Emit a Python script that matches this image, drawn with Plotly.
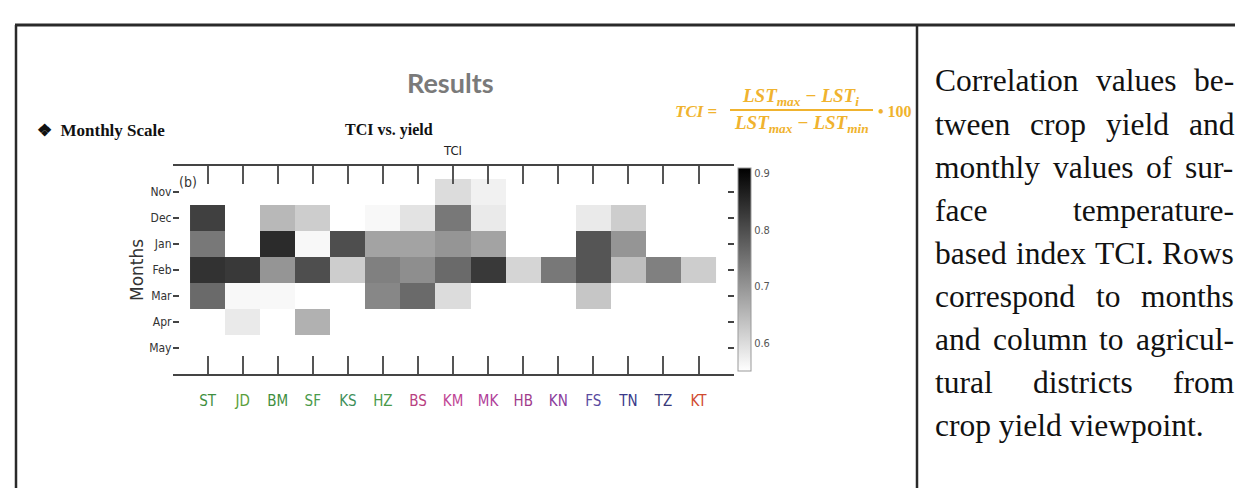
import plotly.graph_objects as go

W, H = 1235, 488

months = ["Nov", "Dec", "Jan", "Feb", "Mar", "Apr", "May"]
districts = ["ST", "JD", "BM", "SF", "KS", "HZ", "BS", "KM", "MK", "HB", "KN", "FS", "TN", "TZ", "KT"]
district_colors = ["#3f8f3f", "#5a9e3a", "#3f8f3f", "#4a9a4a", "#3f8f5a", "#4a9a4a",
                   "#b8407f", "#c04595", "#b0409a", "#a03c8c", "#8a3c9c",
                   "#5a4aa0", "#3a3a8a", "#3a3a7a", "#d04a30"]

N = None
# correlation of TCI with yield, rows = months, columns = districts
tci_nov = [N, N, N, N, N, N, N, 0.60, 0.57, N, N, N, N, N, N]
tci_dec = [0.82, N, 0.65, 0.62, N, 0.56, 0.59, 0.74, 0.58, N, N, 0.58, 0.62, N, N]
tci_jan = [0.74, N, 0.85, 0.56, 0.80, 0.68, 0.68, 0.70, 0.68, N, N, 0.79, 0.70, N, N]
tci_feb = [0.84, 0.83, 0.70, 0.80, 0.62, 0.73, 0.71, 0.76, 0.83, 0.61, 0.74, 0.79, 0.64, 0.73, 0.62]
tci_mar = [0.76, 0.56, 0.56, N, N, 0.72, 0.76, 0.60, N, N, N, 0.63, N, N, N]
tci_apr = [N, 0.58, N, 0.66, N, N, N, N, N, N, N, N, N, N, N]
tci_may = [N] * 15

cbar_ticks = [0.6, 0.7, 0.8, 0.9]

side_lines = [
    "Correlation values be-",
    "tween crop yield and",
    "monthly values of sur-",
    "face temperature-",
    "based index TCI. Rows",
    "correspond to months",
    "and column to agricul-",
    "tural districts from",
    "crop yield viewpoint.",
]

# Times-like advance widths (1/1000 em), used to justify the caption
TIMES = dict(zip("abcdefghijklmnopqrstuvwxyz",
                 [444, 500, 444, 500, 444, 333, 500, 500, 278, 278, 500, 278, 778,
                  500, 500, 500, 500, 333, 389, 278, 500, 500, 722, 500, 500, 444]))
TIMES.update({"C": 667, "T": 611, "I": 333, "R": 667, "-": 333, ".": 250, " ": 250})


def px(x):
    return x / W


def py(y):
    return 1 - y / H


NARROW = "Liberation Sans Narrow, DejaVu Sans Condensed, Liberation Sans, sans-serif"
SERIF = "Liberation Serif, Times New Roman, serif"
GOLD = "#F0B32E"

fig = go.Figure()
fig.add_trace(go.Heatmap(
    z=[tci_nov, tci_dec, tci_jan, tci_feb, tci_mar, tci_apr, tci_may],
    x=districts, y=months,
    zmin=0.55, zmax=0.91,
    colorscale=[[0, "#ffffff"], [1, "#000000"]],
    hoverongaps=False,
    colorbar=dict(
        x=px(738), xanchor="left", xpad=0,
        y=py(269.5), yanchor="middle", ypad=0,
        len=(371 - 168) / H, lenmode="fraction",
        thickness=13, outlinewidth=1, outlinecolor="#999999",
        tickvals=cbar_ticks, ticktext=[str(t) for t in cbar_ticks],
        ticks="", tickfont=dict(family=NARROW, size=11, color="#555555"),
    ),
))

ticktext = [f"<span style='color:{c}'>{d}</span>" for d, c in zip(districts, district_colors)]

fig.update_layout(
    width=W, height=H, autosize=False,
    margin=dict(l=0, r=0, t=0, b=0),
    paper_bgcolor="white", plot_bgcolor="white",
    xaxis=dict(
        domain=[px(172.5), px(733.6)], range=[-1, 15],
        tickmode="array", tickvals=districts, ticktext=ticktext,
        ticks="inside", ticklen=18, tickwidth=1.5, tickcolor="#555555",
        showline=True, linecolor="#444444", linewidth=2, mirror="ticks",
        showgrid=False, zeroline=False, ticklabelstandoff=12,
        tickfont=dict(family=NARROW, size=15),
    ),
    yaxis=dict(
        domain=[py(374), py(166)], range=[7, -1],
        ticks="inside", ticklen=6, tickwidth=1.5, tickcolor="#444444",
        showline=False, mirror="ticks",
        showgrid=False, zeroline=False,
        tickfont=dict(family=NARROW, size=12, color="#333333"),
    ),
)

ann = []
ann.append(dict(x=px(450), y=py(82), text="<b>Results</b>",
                font=dict(family="Lato, Open Sans, sans-serif", size=27, color="#7a7a7a")))
ann.append(dict(x=px(35), y=py(130), xanchor="left", text="<b>❖  Monthly Scale</b>",
                font=dict(family=SERIF, size=17, color="#111111")))
ann.append(dict(x=px(389), y=py(130), text="<b>TCI vs. yield</b>",
                font=dict(family=SERIF, size=16, color="#111111")))
ann.append(dict(x=px(452), y=py(151), text="TCI",
                font=dict(family=NARROW, size=13, color="#222222")))
ann.append(dict(x=px(188), y=py(182), text="(b)",
                font=dict(family=NARROW, size=14, color="#333333")))
ann.append(dict(x=px(137), y=py(270), text="Months", textangle=-90,
                font=dict(family="DejaVu Sans, sans-serif", size=17, color="#333333")))

# formula
ann.append(dict(x=px(719), y=py(111), xanchor="right", text="<b><i>TCI</i> =</b>",
                font=dict(family=SERIF, size=17, color=GOLD)))
ann.append(dict(x=px(800), y=py(97), text="<b><i>LST<sub>max</sub> − LST<sub>i</sub></i></b>",
                font=dict(family=SERIF, size=19, color=GOLD)))
ann.append(dict(x=px(801), y=py(124), text="<b><i>LST<sub>max</sub> − LST<sub>min</sub></i></b>",
                font=dict(family=SERIF, size=19, color=GOLD)))
ann.append(dict(x=px(876), y=py(111), xanchor="left", text="<b>• 100</b>",
                font=dict(family=SERIF, size=16, color=GOLD)))

# right-hand caption, justified between x0 and x1 (last line left aligned)
CAP_SIZE = 31.5
x0, x1 = 933, 1232
for i, line in enumerate(side_lines):
    yy = py(81 + 43.1 * i)
    words = line.split(" ")
    cap_font = dict(family=SERIF, size=CAP_SIZE, color="#111111")
    if i == len(side_lines) - 1 or len(words) == 1:
        ann.append(dict(x=px(x0), y=yy, xanchor="left", text=line, font=cap_font))
        continue
    widths = [sum(TIMES.get(ch, 500) for ch in w) / 1000 * CAP_SIZE for w in words]
    gap = (x1 - x0 - sum(widths)) / (len(words) - 1)
    pos = x0
    for w, wd in zip(words, widths):
        ann.append(dict(x=px(pos), y=yy, xanchor="left", text=w, font=cap_font))
        pos += wd + gap

for a in ann:
    a.setdefault("xref", "paper")
    a.setdefault("yref", "paper")
    a.setdefault("xanchor", "center")
    a.setdefault("yanchor", "middle")
    a["showarrow"] = False
fig.update_layout(annotations=ann)

shapes = [
    dict(type="line", xref="paper", yref="paper", x0=px(15), x1=1, y0=py(25), y1=py(25),
         line=dict(color="#2a2a2a", width=3)),
    dict(type="line", xref="paper", yref="paper", x0=px(16), x1=px(16), y0=py(25), y1=0,
         line=dict(color="#2a2a2a", width=2.5)),
    dict(type="line", xref="paper", yref="paper", x0=px(917), x1=px(917), y0=py(25), y1=0,
         line=dict(color="#2a2a2a", width=2.5)),
    dict(type="line", xref="paper", yref="paper", x0=px(730), x1=px(873), y0=py(110), y1=py(110),
         line=dict(color=GOLD, width=2)),
]
fig.update_layout(shapes=shapes)

fig.write_html("out.html", config={"displayModeBar": False},
               post_script="document.body.style.margin='0';")
